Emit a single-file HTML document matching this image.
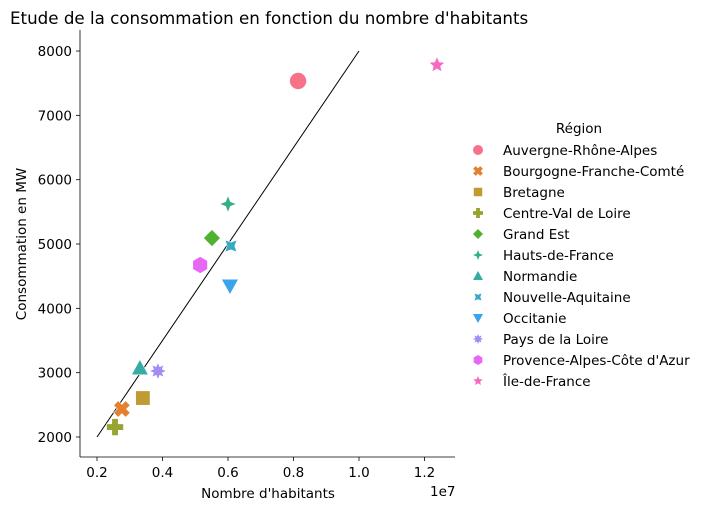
<!DOCTYPE html>
<html><head><meta charset="utf-8"><style>
body{margin:0;background:#fff;width:707px;height:510px;overflow:hidden}
svg text{font-family:"DejaVu Sans","Liberation Sans",sans-serif;fill:#000}
</style></head><body>
<svg id="c" width="707" height="510">
<text x="10" y="24" font-size="16.7">Etude de la consommation en fonction du nombre d'habitants</text>
</svg>
<script>
const regions=["Auvergne-Rhône-Alpes","Bourgogne-Franche-Comté","Bretagne","Centre-Val de Loire","Grand Est","Hauts-de-France","Normandie","Nouvelle-Aquitaine","Occitanie","Pays de la Loire","Provence-Alpes-Côte d'Azur","Île-de-France"];
const population=[0.814,0.276,0.34,0.255,0.551,0.6,0.331,0.609,0.606,0.386,0.515,1.238];
const consumption=[7534,2435,2606,2155,5093,5622,3072,4969,4347,3026,4673,7782];
const xTicks=[0.2,0.4,0.6,0.8,1.0,1.2];
const yTicks=[2000,3000,4000,5000,6000,7000,8000];
const refLine=[[0.2,2000],[1.0,8000]];
const colors=['#f77189','#e5802f','#c09a33','#97a431','#50b131','#34ae85','#36ada4','#38a9c5','#3ba3ec','#a48cf4','#e866f4','#f668c2'];
const shapes=['circle','x','square','plus','diamond','star4','triup','xthin','tridown','star8','hex','star5'];
const svg=document.getElementById('c');const NS='http://www.w3.org/2000/svg';
const X=v=>97+(v-0.2)*327.5;const Y=v=>437-(v-2000)*0.06433;
function el(t,a,p){const e=document.createElementNS(NS,t);for(const k in a)e.setAttribute(k,a[k]);(p||svg).appendChild(e);return e;}
let ax=el('line',{x1:80,y1:457,x2:455,y2:457,stroke:'#000','stroke-width':0.8});

let ay=el('line',{x1:80,y1:30,x2:80,y2:457,stroke:'#000','stroke-width':0.8});

xTicks.forEach(t=>{el('line',{x1:X(t),y1:457,x2:X(t),y2:461,stroke:'#000','stroke-width':0.8});
const tx=el('text',{x:X(t),y:477,'font-size':13.5,'text-anchor':'middle'});tx.textContent=t.toFixed(1);
});
yTicks.forEach(t=>{el('line',{x1:76,y1:Y(t),x2:80,y2:Y(t),stroke:'#000','stroke-width':0.8});
const tx=el('text',{x:72,y:Y(t)+5,'font-size':13.5,'text-anchor':'end'});tx.textContent=t;
});
let t1=el('text',{x:268,y:498,'font-size':13.5,'text-anchor':'middle'});t1.textContent="Nombre d'habitants";

let t2=el('text',{x:430,y:496,'font-size':13.5});t2.textContent="1e7";

let t3=el('text',{x:26,y:244,'font-size':13.5,'text-anchor':'middle',transform:'rotate(-90 26 244)'});t3.textContent="Consommation en MW";

let rl=el('line',{x1:X(refLine[0][0]),y1:Y(refLine[0][1]),x2:X(refLine[1][0]),y2:Y(refLine[1][1]),stroke:'#000','stroke-width':1});

function star(n,r1,r2,rot){let p=[];for(let i=0;i<2*n;i++){const a=rot+Math.PI*i/n;const r=i%2?r2:r1;p.push((r*Math.sin(a)).toFixed(2)+','+(-r*Math.cos(a)).toFixed(2));}return p.join(' ');}
function cross(r){const w=r*0.38;return `${-w},${-r} ${w},${-r} ${w},${-w} ${r},${-w} ${r},${w} ${w},${w} ${w},${r} ${-w},${r} ${-w},${w} ${-r},${w} ${-r},${-w} ${-w},${-w}`;}
function marker(s,x,y,r,c){const g=el('g',{transform:`translate(${x},${y})`,fill:c,stroke:'#fff','stroke-width':0.6});
switch(s){case'circle':el('circle',{r:r},g);break;
case'square':el('rect',{x:-r*0.85,y:-r*0.85,width:r*1.7,height:r*1.7},g);break;
case'diamond':el('polygon',{points:`0,${-r} ${r},0 0,${r} ${-r},0`},g);break;
case'triup':el('polygon',{points:`0,${-r} ${r},${r*0.8} ${-r},${r*0.8}`},g);break;
case'tridown':el('polygon',{points:`0,${r} ${r},${-r*0.8} ${-r},${-r*0.8}`},g);break;
case'hex':el('polygon',{points:[0,1,2,3,4,5].map(i=>{const a=Math.PI/3*i+Math.PI/6;return (r*Math.cos(a)).toFixed(2)+','+(r*Math.sin(a)).toFixed(2)}).join(' ')},g);break;
case'plus':el('polygon',{points:cross(r)},g);break;
case'x':g.setAttribute('transform',`translate(${x},${y}) rotate(45)`);el('polygon',{points:cross(r)},g);break;
case'star4':el('polygon',{points:star(4,r,r*0.4,0)},g);break;
case'xthin':el('polygon',{points:star(4,r,r*0.45,Math.PI/4)},g);break;
case'star8':el('polygon',{points:star(8,r,r*0.55,0)},g);break;
case'star5':el('polygon',{points:star(5,r,r*0.45,0)},g);break;}
return g;}
regions.forEach((n,i)=>{const m=marker(shapes[i],X(population[i]),Y(consumption[i]),8.5,colors[i]);
});
let lt=el('text',{x:579,y:133,'font-size':13.5,'text-anchor':'middle'});lt.textContent='Région';

regions.forEach((n,i)=>{const y=150+i*21;const m=marker(shapes[i],478,y,5,colors[i]);m.setAttribute('stroke-width','0');

const t=el('text',{x:503,y:y+5,'font-size':13.5});t.textContent=n;
});
</script>
</body></html>
